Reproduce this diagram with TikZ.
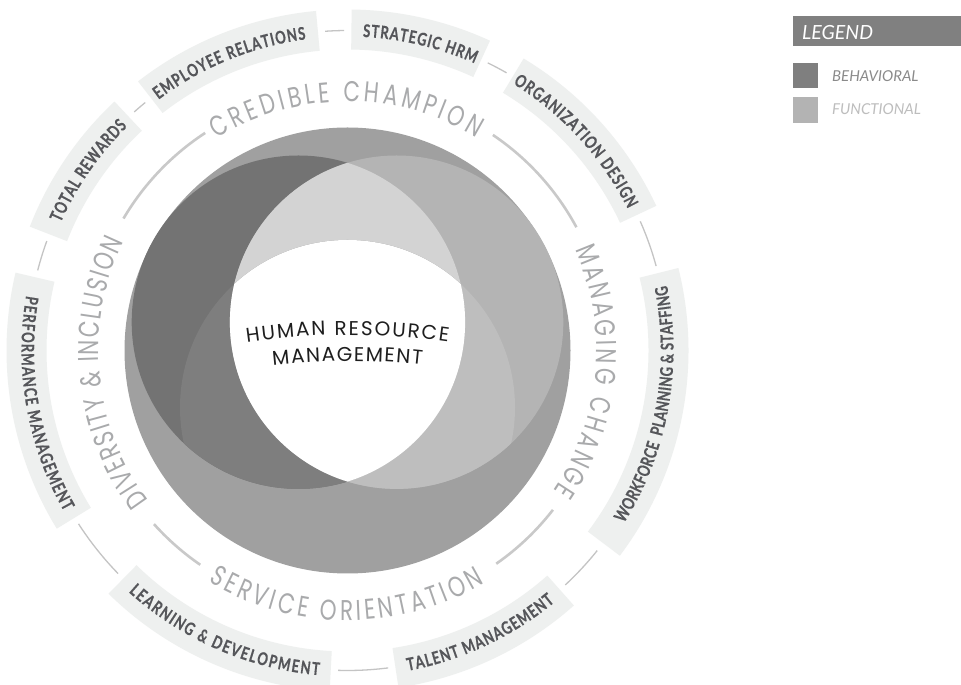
\documentclass[tikz,border=0pt]{standalone}
\usepackage{fontspec}
\usetikzlibrary{decorations.text}
\newfontfamily\ringfont[FakeStretch=0.75]{Poppins}
\newfontfamily\centerfont{Poppins}
\newfontfamily\labfont[FakeStretch=0.75,FakeBold=0.5]{Lato}
\newfontfamily\legfont{Lato}
\definecolor{bigc}{HTML}{A0A0A0}
\definecolor{darkc}{HTML}{737373}
\definecolor{rightc}{HTML}{B4B4B4}
\definecolor{lensc}{HTML}{D3D3D3}
\definecolor{dbotc}{HTML}{7E7E7E}
\definecolor{rbotc}{HTML}{BEBEBE}
\definecolor{boxc}{HTML}{EEF0EF}
\definecolor{labtxt}{HTML}{55565A}
\definecolor{ringtxt}{HTML}{A9AAAC}
\definecolor{ringline}{HTML}{C9C9C9}
\definecolor{outline}{HTML}{C4C4C4}
\definecolor{ctrtxt}{HTML}{1E1E1E}
\definecolor{leghead}{HTML}{808080}
\definecolor{legdark}{HTML}{7F7F7F}
\definecolor{leglight}{HTML}{B3B3B3}
\definecolor{legdarktxt}{HTML}{8A8A8A}
\definecolor{leglighttxt}{HTML}{BDBDBD}
\newcommand\ringfmt{\ringfont\fontsize{28.6}{30}\selectfont\color{ringtxt}}
\newcommand\labfmt{\labfont\bfseries\fontsize{17.5}{19}\selectfont\color{labtxt}}
\newcommand\ctrfmt{\centerfont\fontsize{20}{22}\selectfont\color{ctrtxt}}
\newcommand\outbox[2]{\fill[boxc] (#1:301pt) arc[start angle=#1, end angle=#2, radius=301pt] -- (#2:341pt) arc[start angle=#2, end angle=#1, radius=341pt] -- cycle;}
\newcommand\outseg[2]{\draw[outerline] (#1:320pt) arc[start angle=#1, end angle=#2, radius=320pt];}
\newcommand\inseg[2]{\draw[innerline] (#1:260pt) arc[start angle=#1, end angle=#2, radius=260pt];}
\tikzset{
  ringtext/.style={decorate, decoration={text along path, text align={fit to path}, text={|\ringfmt|#1}}},
  labtext/.style={decorate, decoration={text along path, text align={fit to path}, text={|\labfmt|#1}}},
  ctrtext/.style={decorate, decoration={text along path, text align={fit to path}, text={|\ctrfmt|#1}}},
  outerline/.style={draw=outline, line width=1.3pt},
  innerline/.style={draw=ringline, line width=2.6pt},
}
\begin{document}
\begin{tikzpicture}[x=1pt,y=1pt]
\useasboundingbox (0,0) rectangle (961,685);
\fill[white] (0,0) rectangle (961,685);
% ---------- central circles ----------
\begin{scope}[shift={(347.5,334.5)}]
  \coordinate (C) at (0,0);
  \fill[bigc] (C) circle[radius=223pt];
  \fill[darkc] (-49.1,28.3) circle[radius=166.7pt];
  \fill[rightc] (49.1,28.3) circle[radius=166.7pt];
  \begin{scope}
    \clip (-49.1,28.3) circle[radius=166.7pt];
    \fill[lensc] (49.1,28.3) circle[radius=166.7pt];
    \fill[dbotc] (0,-57) circle[radius=167.5pt];
  \end{scope}
  \begin{scope}
    \clip (49.1,28.3) circle[radius=166.7pt];
    \fill[rbotc] (0,-57) circle[radius=167.5pt];
  \end{scope}
  \begin{scope}
    \clip (-49.1,28.3) circle[radius=166.7pt];
    \clip (49.1,28.3) circle[radius=166.7pt];
    \fill[white] (0,-57) circle[radius=167.5pt];
  \end{scope}
  % ---------- inner ring ----------
  \inseg{123.2}{149.5}
  \inseg{221.9}{235.5}
  \inseg{304.9}{322.2}
  \inseg{28.3}{56}
  \path[ringtext={CREDIBLE CHAMPION}] (121.6:249pt) arc[start angle=121.6, end angle=58.8, radius=249pt];
  \path[ringtext={MANAGING CHANGE}] (24:249pt) arc[start angle=24, end angle=-34.3, radius=249pt];
  \path[ringtext={DIVERSITY {\&} INCLUSION}] (216.9:249pt) arc[start angle=216.9, end angle=154.1, radius=249pt];
  \path[ringtext={SERVICE ORIENTATION}] (239:270pt) arc[start angle=239, end angle=300.5, radius=270pt];
  % ---------- outer ring ----------
  \outbox{65.3}{89.3}
  \outbox{95.3}{127.9}
  \outbox{133.1}{158.7}
  \outbox{166.8}{211.5}
  \outbox{225.5}{267.0}
  \outbox{278.6}{311.6}
  \outbox{-37}{14}
  \outbox{25.1}{58.9}
  \outseg{90.6}{94.0}
  \outseg{129.2}{131.8}
  \outseg{160.0}{165.5}
  \outseg{212.8}{224.2}
  \outseg{268.3}{277.3}
  \outseg{312.9}{321.3}
  \outseg{15.3}{23.8}
  \outseg{60.2}{64.0}
  \path[labtext={STRATEGIC HRM}] (87.2:314pt) arc[start angle=87.2, end angle=66.1, radius=314pt];
  \path[labtext={EMPLOYEE RELATIONS}] (127:314pt) arc[start angle=127, end angle=97.6, radius=314pt];
  \path[labtext={TOTAL REWARDS}] (156:314pt) arc[start angle=156, end angle=134.5, radius=314pt];
  \path[labtext={ORGANIZATION DESIGN}] (58.2:314pt) arc[start angle=58.2, end angle=26.8, radius=314pt];
  \path[labtext={PERFORMANCE MANAGEMENT}] (170.3:326pt) arc[start angle=170.3, end angle=209.6, radius=326pt];
  \path[labtext={LEARNING {\&} DEVELOPMENT}] (227.8:326pt) arc[start angle=227.8, end angle=265, radius=326pt];
  \path[labtext={TALENT MANAGEMENT}] (280.7:326pt) arc[start angle=280.7, end angle=309.5, radius=326pt];
  \path[labtext={WORKFORCE {\ }PLANNING {\&} STAFFING}] (-32:326pt) arc[start angle=-32, end angle=11.5, radius=326pt];
\end{scope}
% ---------- centre text ----------
\begin{scope}[shift={(347.5,-360.6)}]
  \path[ctrtext={HUMAN RESOURCE}] (98.15:710.6pt) arc[start angle=98.15, end angle=81.85, radius=710.6pt];
  \path[ctrtext={MANAGEMENT}] (96.25:684.6pt) arc[start angle=96.25, end angle=83.75, radius=684.6pt];
\end{scope}
% ---------- legend ----------
\fill[leghead] (793,639) rectangle (961,669);
\node[anchor=base west, inner sep=0, text=white, font=\legfont\itshape\fontsize{19.5}{20}\selectfont] (legtitle) at (802,645.7) {LEGEND};
\fill[legdark] (793,596.7) rectangle (818,621.7);
\fill[leglight] (793,562.3) rectangle (818,587.7);
\node[anchor=base west, inner sep=0, text=legdarktxt, font=\legfont\itshape\fontsize{15}{16}\selectfont] (legbeh) at (832,603.3) {BEHAVIORAL};
\node[anchor=base west, inner sep=0, text=leglighttxt, font=\legfont\itshape\fontsize{15}{16}\selectfont] (legfun) at (832,570) {FUNCTIONAL};
\end{tikzpicture}
\end{document}
